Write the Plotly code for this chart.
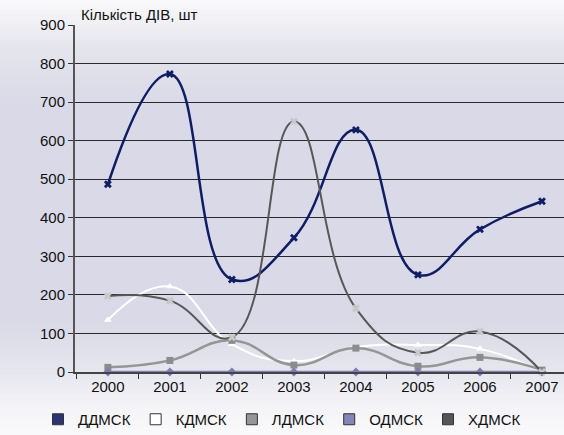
import plotly.graph_objects as go

years = ["2000", "2001", "2002", "2003", "2004", "2005", "2006", "2007"]
series_names = ["ДДМСК", "КДМСК", "ЛДМСК", "ОДМСК", "ХДМСК"]
ddmsk = [487, 773, 240, 348, 628, 252, 370, 443]
kdmsk = [135, 222, 72, 28, 65, 70, 60, 0]
ldmsk = [12, 30, 82, 18, 62, 15, 38, 5]
odmsk = [0, 0, 0, 0, 0, 0, 0, 0]
hdmsk = [197, 185, 90, 650, 165, 50, 105, 0]
y_ticks = [0, 100, 200, 300, 400, 500, 600, 700, 800, 900]

values = [ddmsk, kdmsk, ldmsk, odmsk, hdmsk]
line_colors = ["#0F1E64", "#FFFFFF", "#969696", "#8080B4", "#575757"]
marker_colors = ["#0F1E64", "#FFFFFF", "#8C8C8C", "#7C7CB0", "#C8C8C8"]
symbols = ["x", "triangle-up", "square", "diamond", "x"]
widths = [2.5, 2, 2.5, 2.5, 2]
legend_colors = ["#2B3575", "#FFFFFF", "#969696", "#8585B8", "#555555"]

fig = go.Figure()

# background gradient (whole picture)
W, H = 564, 435
ml, mr, mt, mb = 75, 0, 25, 63
ph = H - mt - mb
pw = W - ml - mr
stops = [(0, (250, 250, 252)), (50, (228, 228, 236)), (110, (217, 217, 231)),
         (320, (217, 217, 231)), (372, (230, 230, 238)), (405, (243, 243, 247)),
         (435, (250, 250, 252))]

def col_at(py):
    for i in range(len(stops) - 1):
        a, ca = stops[i]
        b, cb = stops[i + 1]
        if a <= py <= b:
            t = (py - a) / (b - a)
            return tuple(int(round(ca[k] + (cb[k] - ca[k]) * t)) for k in range(3))
    return stops[-1][1]

step = 5
for py in range(0, H, step):
    c = col_at(py + step / 2)
    y0 = 1 - (py + step + 0.5 - mt) / ph
    y1 = 1 - (py - 0.5 - mt) / ph
    fig.add_shape(type="rect", xref="paper", yref="paper",
                  x0=-ml / pw, x1=1.01, y0=y0, y1=y1,
                  fillcolor="rgb(%d,%d,%d)" % c, line_width=0, layer="below")

for name, vals, lc, mc, sym, w in zip(series_names, values, line_colors, marker_colors, symbols, widths):
    fig.add_trace(go.Scatter(
        x=years, y=vals, name=name, mode="lines+markers",
        line=dict(color=lc, width=w, shape="spline", smoothing=1.3),
        marker=dict(symbol=sym, size=7, color=mc, line=dict(width=0)),
        showlegend=False, cliponaxis=False))

for name, lc in zip(series_names, legend_colors):
    fig.add_trace(go.Scatter(
        x=[None], y=[None], name=name, mode="markers",
        marker=dict(symbol="square", size=11, color=lc, line=dict(color="#333333", width=1)),
        showlegend=True))

fig.update_layout(
    width=W, height=H,
    margin=dict(l=ml, r=mr, t=mt, b=mb, autoexpand=False),
    paper_bgcolor="#F4F4F8",
    plot_bgcolor="rgba(0,0,0,0)",
    font=dict(family="Liberation Sans, Arial, sans-serif", size=14, color="#111111"),
    showlegend=True,
    legend=dict(orientation="h", x=(38 - ml) / pw, xanchor="left", y=-(403 - mt - ph) / ph,
                yanchor="top", font=dict(size=15), itemwidth=30, tracegroupgap=0,
                bgcolor="rgba(0,0,0,0)"),
    xaxis=dict(type="category", range=[-0.53, 7.355], showgrid=False, automargin=False,
               ticks="outside", tickson="boundaries", ticklen=5, tickcolor="#333333",
               showline=True, linecolor="#444444", linewidth=2,
               tickfont=dict(size=15), zeroline=False),
    yaxis=dict(range=[0, 900], tickvals=y_ticks, showgrid=True, gridcolor="#2A2A2A",
               gridwidth=1, ticks="outside", ticklen=5, tickcolor="#333333", automargin=False,
               showline=True, linecolor="#555555", linewidth=2, zeroline=False,
               tickfont=dict(size=15)),
    annotations=[dict(text="Кількість ДІВ, шт", xref="paper", yref="paper",
                      x=(79 - ml) / pw, y=1 + (mt - 15) / ph, xanchor="left",
                      yanchor="middle", showarrow=False, font=dict(size=15))],
)

fig.write_html("out.html", config={"displayModeBar": False},
               post_script="document.body.style.margin='0';document.body.style.overflow='hidden';")
